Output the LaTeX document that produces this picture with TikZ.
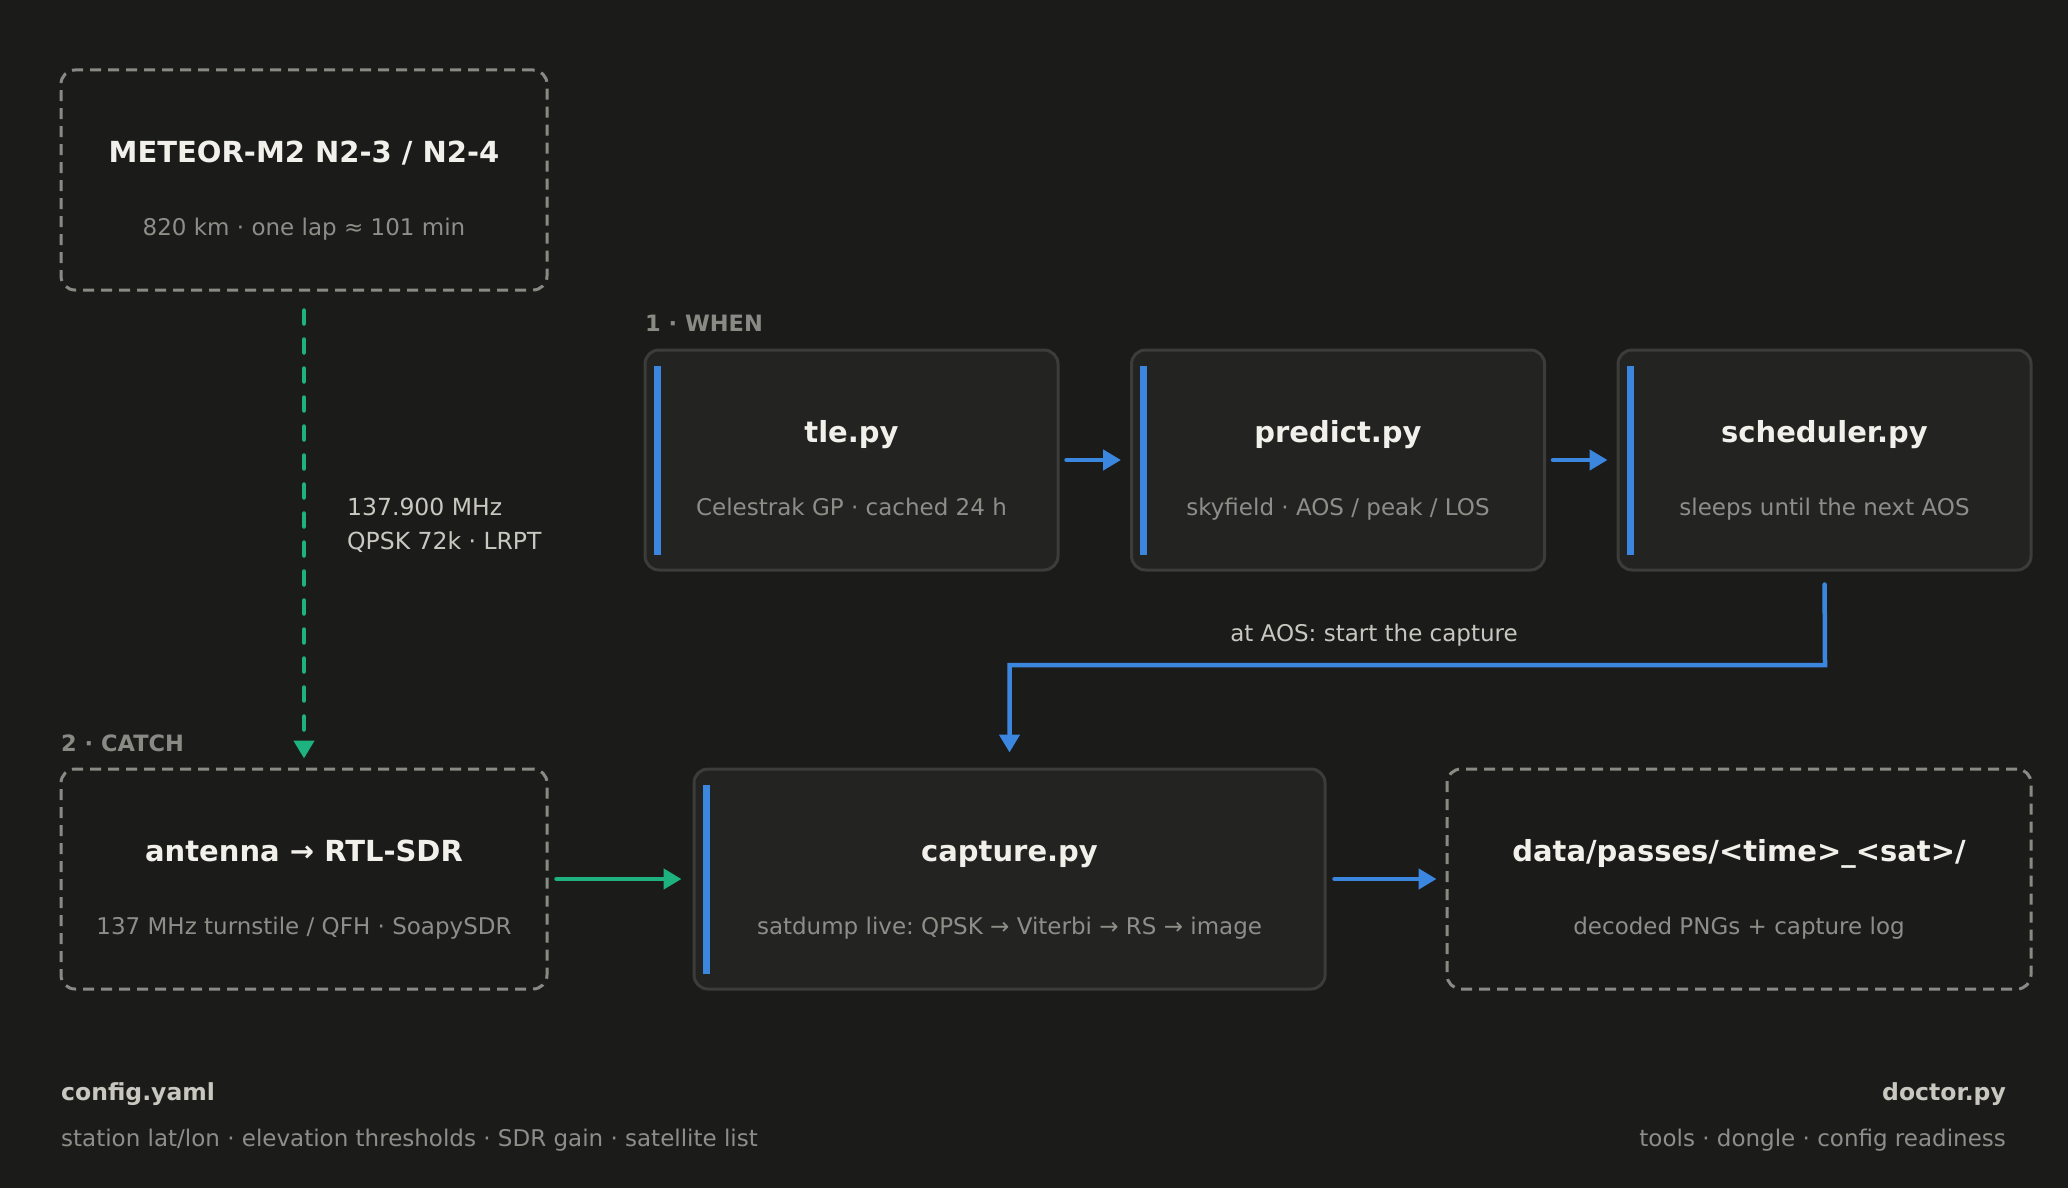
\documentclass[tikz,border=0pt]{standalone}
\usepackage{fontspec}
\setmainfont{DejaVu Sans}
\usepackage{xcolor}
\usetikzlibrary{calc,arrows.meta}
\frenchspacing

\definecolor{bgdark}{HTML}{1B1B1A}
\definecolor{boxfill}{HTML}{232322}
\definecolor{boxline}{HTML}{3C3C3A}
\definecolor{dashline}{HTML}{8A8A85}
\definecolor{titletxt}{HTML}{F2F0EA}
\definecolor{subtxt}{HTML}{8E8E89}
\definecolor{notetxt}{HTML}{C9C8C0}
\definecolor{flowblue}{HTML}{3B87E0}
\definecolor{flowgreen}{HTML}{1DB27F}

\tikzset{
  solidbox/.style={draw=boxline,fill=boxfill,line width=3pt,rounded corners=14pt,minimum height=220pt,inner sep=0pt},
  dashbox/.style={draw=dashline,line width=3pt,dash pattern=on 11pt off 7pt,rounded corners=14pt,minimum height=220pt,inner sep=0pt},
  boxtitle/.style={text=titletxt,font=\fontsize{29}{35}\selectfont\bfseries,anchor=base,inner sep=0pt},
  subtext/.style={text=subtxt,font=\fontsize{23}{28}\selectfont,anchor=base,inner sep=0pt},
  section/.style={text=dashline,font=\fontsize{22.5}{27}\selectfont\bfseries,anchor=base west,inner sep=0pt},
  bluearrow/.style={draw=flowblue,line width=4.5pt,line cap=round,-{Triangle[length=18pt,width=20pt]}},
  greenarrow/.style={draw=flowgreen,line width=4.5pt,line cap=round,-{Triangle[length=18pt,width=20pt]}},
}

\begin{document}
\begin{tikzpicture}[x=1pt,y=-1pt]
\fill[bgdark] (0,0) rectangle (2068,1188);
\useasboundingbox (0,0) rectangle (2068,1188);

% satellite
\node[dashbox,minimum width=486pt] (meteor) at (304,180) {};
\node[boxtitle] (meteortitle) at ($(meteor.center)+(0,-17.5)$) {METEOR-M2 N2-3 / N2-4};
\node[subtext] (meteorsub) at ($(meteor.center)+(0,55.5)$) {820 km · one lap ≈ 101 min};

% 1 . when
\node[section] (whenlabel) at (645,331) {1 · WHEN};
\node[solidbox,minimum width=413pt] (tle) at (851.5,460) {};
\node[solidbox,minimum width=413pt] (predict) at (1338,460) {};
\node[solidbox,minimum width=413pt] (sched) at (1824.5,460) {};
\foreach \b in {tle,predict,sched}
  \fill[flowblue] ($(\b.north west)+(10,17)$) rectangle ($(\b.south west)+(17,-17)$);
\node[boxtitle] (tletitle) at ($(tle.center)+(0,-17.5)$) {tle.py};
\node[subtext] (tlesub) at ($(tle.center)+(0,55.5)$) {Celestrak GP · cached 24 h};
\node[boxtitle] (predicttitle) at ($(predict.center)+(0,-17.5)$) {predict.py};
\node[subtext] (predictsub) at ($(predict.center)+(0,55.5)$) {skyfield · AOS / peak / LOS};
\node[boxtitle] (schedtitle) at ($(sched.center)+(0,-17.5)$) {scheduler.py};
\node[subtext] (schedsub) at ($(sched.center)+(0,55.5)$) {sleeps until the next AOS};

% 2 . catch
\node[section] (catchlabel) at (61,751) {2 · CATCH};
\node[dashbox,minimum width=486pt] (antenna) at (304,879) {};
\node[boxtitle] (antennatitle) at ($(antenna.center)+(0,-17.5)$) {antenna → RTL-SDR};
\node[subtext] (antennasub) at ($(antenna.center)+(0,55.5)$) {137 MHz turnstile / QFH · SoapySDR};
\node[solidbox,minimum width=631pt] (capture) at (1009.5,879) {};
\fill[flowblue] ($(capture.north west)+(10,17)$) rectangle ($(capture.south west)+(17,-17)$);
\node[boxtitle] (capturetitle) at ($(capture.center)+(0,-17.5)$) {capture.py};
\node[subtext] (capturesub) at ($(capture.center)+(0,55.5)$) {satdump live: QPSK → Viterbi → RS → image};
\node[dashbox,minimum width=584pt] (passes) at (1739,879) {};
\node[boxtitle] (passestitle) at ($(passes.center)+(0,-17.5)$) {data/passes/<time>\_<sat>/};
\node[subtext] (passessub) at ($(passes.center)+(0,55.5)$) {decoded PNGs + capture log};

% connectors
\draw[greenarrow,dash pattern=on 13pt off 16pt,shorten <=19pt,shorten >=9pt] (meteor.south) -- (antenna.north);
\node[text=notetxt,font=\fontsize{23.5}{34}\selectfont,align=left,anchor=base west,inner sep=0pt] (linklabel) at (347,549.5) {137.900 MHz\\QPSK 72k · LRPT};
\draw[bluearrow,shorten <=7pt,shorten >=9pt] (tle.east) -- (predict.west);
\draw[bluearrow,shorten <=7pt,shorten >=9pt] (predict.east) -- (sched.west);
\coordinate (turn) at (1825,665);
\draw[bluearrow,shorten <=13pt,shorten >=15pt] (sched.south) -- (turn) -- (turn -| capture.north) -- (capture.north);
\node[text=notetxt,font=\fontsize{23}{28}\selectfont,anchor=base,inner sep=0pt] (aoslabel) at (1374,641.5) {at AOS: start the capture};
\draw[greenarrow,shorten <=8pt,shorten >=11pt] (antenna.east) -- (capture.west);
\draw[bluearrow,shorten <=8pt,shorten >=9pt] (capture.east) -- (passes.west);

% footer
\node[text=notetxt,font=\fontsize{23.5}{28}\selectfont\bfseries,anchor=base west,inner sep=0pt] (configname) at (61,1100) {config.yaml};
\node[subtext,anchor=base west] (configsub) at (61,1146) {station lat/lon · elevation thresholds · SDR gain · satellite list};
\node[text=notetxt,font=\fontsize{23.5}{28}\selectfont\bfseries,anchor=base east,inner sep=0pt] (doctorname) at (2006,1100) {doctor.py};
\node[subtext,anchor=base east] (doctorsub) at (2006,1146) {tools · dongle · config readiness};
\end{tikzpicture}
\end{document}
